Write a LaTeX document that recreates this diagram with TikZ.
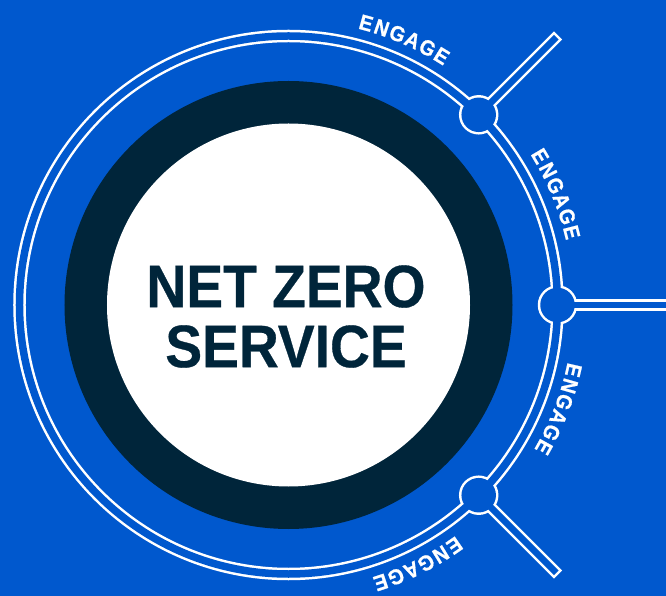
\documentclass[tikz,border=0pt]{standalone}
\usepackage{fontspec}
\setmainfont{Liberation Sans}[FakeStretch=0.92]
\usepackage{tikz}
\definecolor{bgblue}{RGB}{0,88,206}
\definecolor{navy}{RGB}{0,37,58}
\tikzset{
  rimwhite/.style={draw=white},
  rimblue/.style={draw=bgblue},
  engagechar/.style={font=\bfseries\addfontfeature{FakeBold=0.8}\fontsize{21.5}{21.5}\selectfont,text=white,anchor=base,inner sep=0pt}
}

\begin{document}
\begin{tikzpicture}[x=1pt,y=1pt]
  \useasboundingbox (-288.5,-291) rectangle (377.5,305);
  \clip (-288.5,-291) rectangle (377.5,305);
  \fill[bgblue] (-288.5,-291) rectangle (377.5,305);
  % core
  \fill[navy] (0,0) circle (224);
  \fill[white] (0,0) circle (181.5);
  \node[font=\bfseries\addfontfeature{FakeBold=0.5}\fontsize{60}{60}\selectfont,text=navy,align=center] (title) at (-2.5,-11.5) {NET ZERO\\SERVICE};
  % joints on the rim
  \coordinate (jtop) at (45:269);
  \coordinate (jmid) at (0:269);
  \coordinate (jbot) at (-45:269);
  % rim, spokes and joints: white edges first
  \draw[rimwhite,line width=12.5] (0,0) circle (269);
  \draw[rimwhite,line width=11.5] (jtop) -- (45:381.25);
  \draw[rimwhite,line width=11.5] (jmid) -- (0:420);
  \draw[rimwhite,line width=11.5] (jbot) -- (-45:381.25);
  \foreach \j in {jtop,jmid,jbot}
    \fill[white] (\j) circle (19.75);
  % then the blue insides
  \draw[rimblue,line width=7.5] (0,0) circle (269);
  \draw[rimblue,line width=6.5] (jtop) -- (45:378.75);
  \draw[rimblue,line width=6.5] (jmid) -- (0:420);
  \draw[rimblue,line width=6.5] (jbot) -- (-45:378.75);
  \foreach \j in {jtop,jmid,jbot}
    \fill[bgblue] (\j) circle (17.25);
  % labels, letter by letter, clockwise
  \foreach \mid [count=\k] in {66.5,22.5,-21,-63.5}
    \foreach \ch/\off [count=\i] in {E/8.1,N/4.9,G/1.6,A/-1.6,G/-4.9,E/-8.1} {
      \pgfmathsetmacro\ang{\mid+\off}
      \node[engagechar,rotate=\ang-90] (lbl\k-\i) at (\ang:285) {\ch};
    }
\end{tikzpicture}
\end{document}
